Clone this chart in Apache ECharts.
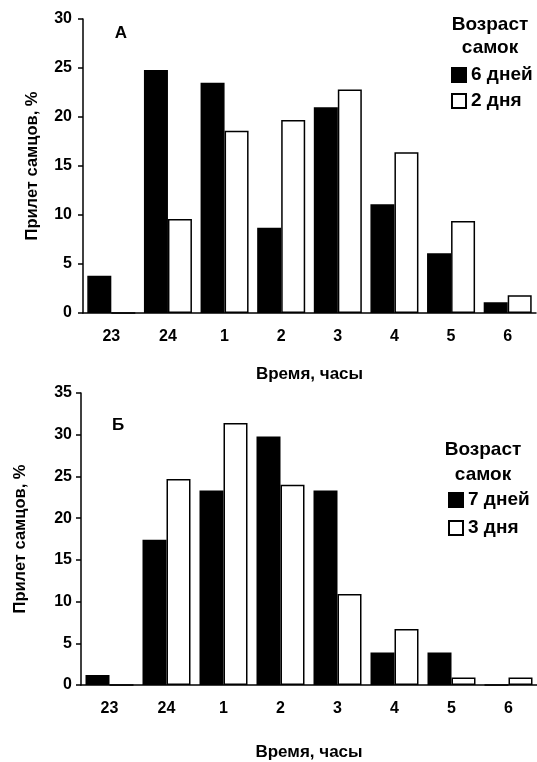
<!DOCTYPE html>
<html>
<head>
<meta charset="utf-8">
<script src="https://cdn.jsdelivr.net/npm/echarts@6/dist/echarts.min.js"></script>
<style>
  html, body { margin: 0; padding: 0; background: #fff; }
  #chart { width: 537px; height: 762px; }
</style>
</head>
<body>
<div id="chart"></div>
<script>
// ==============================
// данные
// ==============================
const hours = ['23', '24', '1', '2', '3', '4', '5', '6'];

const femalesA6 = [3.8, 24.8, 23.5, 8.7, 21.0, 11.1, 6.1, 1.1];
const femalesA2 = [0, 9.6, 18.6, 19.7, 22.8, 16.4, 9.4, 1.8];

const femalesB7 = [1.2, 17.4, 23.3, 29.8, 23.3, 3.9, 3.9, 0];
const femalesB3 = [0, 24.7, 31.4, 24.0, 10.9, 6.7, 0.9, 0.9];

const FONT = '"Liberation Sans", Arial, sans-serif';
const INK = '#000';

const chart = echarts.init(document.getElementById('chart'));

// ==============================
// оси
// ==============================
function xAxisFor(gridIndex, nameGap) {
  return {
    type: 'category',
    gridIndex,
    data: hours,
    name: 'Время, часы',
    nameLocation: 'middle',
    nameGap,
    nameTextStyle: { color: INK, fontFamily: FONT, fontSize: 17, fontWeight: 'bold' },
    axisLine: { lineStyle: { color: INK, width: 1.5 } },
    axisTick: { alignWithLabel: true, length: 5, lineStyle: { color: INK, width: 1.5 } },
    axisLabel: { color: INK, fontFamily: FONT, fontSize: 16, fontWeight: 'bold', margin: 16 },
    splitLine: { show: false }
  };
}

function yAxisFor(gridIndex, max, nameGap, margin) {
  return {
    type: 'value',
    gridIndex,
    min: 0,
    max,
    interval: 5,
    name: 'Прилет самцов, %',
    nameLocation: 'middle',
    nameGap,
    nameTextStyle: { color: INK, fontFamily: FONT, fontSize: 16.5, fontWeight: 'bold' },
    axisLine: { show: true, lineStyle: { color: INK, width: 1.5 } },
    axisTick: { show: true, length: 5, lineStyle: { color: INK, width: 1.5 } },
    axisLabel: { color: INK, fontFamily: FONT, fontSize: 16, fontWeight: 'bold', margin },
    splitLine: { show: false }
  };
}

function barSeries(name, data, axisIndex, fill) {
  return {
    type: 'bar',
    name,
    data,
    xAxisIndex: axisIndex,
    yAxisIndex: axisIndex,
    barWidth: 24,
    barGap: '0%',
    itemStyle: { color: fill, borderColor: INK, borderWidth: 1.5 },
    emphasis: { disabled: true }
  };
}

function legendFor(data, left, top, itemGap) {
  return {
    data,
    orient: 'vertical',
    left,
    top,
    padding: 0,
    icon: 'rect',
    itemWidth: 14,
    itemHeight: 14,
    itemGap,
    selectedMode: false,
    textStyle: { color: INK, fontFamily: FONT, fontSize: 19, fontWeight: 'bold', lineHeight: 20 }
  };
}

function label(text, x, y, size) {
  return {
    type: 'text',
    x, y,
    style: {
      text,
      fill: INK,
      font: `bold ${size}px ${FONT}`,
      textAlign: 'center',
      textVerticalAlign: 'middle'
    }
  };
}

chart.setOption({
  animation: false,
  backgroundColor: '#fff',
  grid: [
    { left: 83, right: 1, top: 19, height: 294 },
    { left: 81, right: 0, top: 393, height: 298 }
  ],
  xAxis: [xAxisFor(0, 53), xAxisFor(1, 59)],
  yAxis: [yAxisFor(0, 30, 42, 11), yAxisFor(1, 35, 52, 9)],
  legend: [
    legendFor(['6 дней', '2 дня'], 451, 65, 6),
    legendFor(['7 дней', '3 дня'], 448, 490, 8)
  ],
  series: [
    barSeries('6 дней', femalesA6, 0, INK),
    barSeries('2 дня', femalesA2, 0, '#fff'),
    barSeries('7 дней', femalesB7, 1, INK),
    barSeries('3 дня', femalesB3, 1, '#fff')
  ],
  graphic: [
    label('А', 121, 33, 17),
    label('Б', 118, 425, 17),
    label('Возраст', 490, 25, 19),
    label('самок', 490, 48, 19),
    label('Возраст', 483, 450, 19),
    label('самок', 483, 475, 19)
  ]
});
</script>
</body>
</html>
